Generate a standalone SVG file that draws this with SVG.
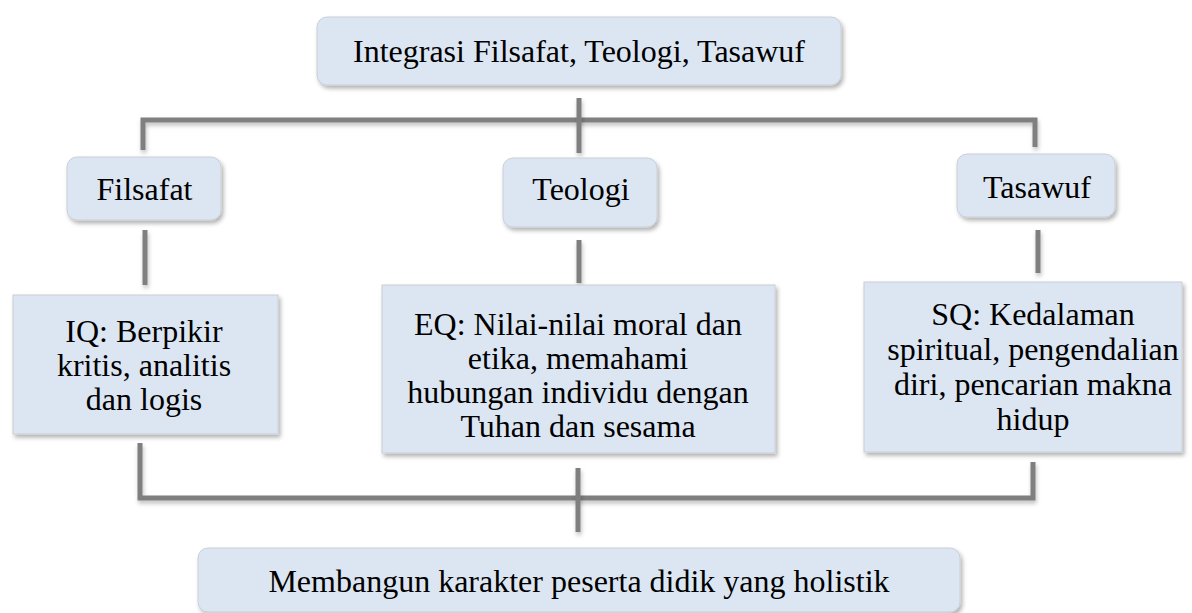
<svg xmlns="http://www.w3.org/2000/svg" width="1192" height="613" viewBox="0 0 1192 613">
<defs>
<filter id="sh" filterUnits="userSpaceOnUse" x="0" y="0" width="1192" height="613">
<feDropShadow dx="2" dy="3" stdDeviation="2" flood-color="#000" flood-opacity="0.3"/>
</filter>
<filter id="lsh" filterUnits="userSpaceOnUse" x="0" y="0" width="1192" height="613">
<feDropShadow dx="1" dy="3" stdDeviation="2" flood-color="#000" flood-opacity="0.25"/>
</filter>
</defs>
<style>
.box{fill:#dce6f2;stroke:#c9ced6;stroke-width:1;filter:url(#sh)}
.lbl{fill:#000;text-anchor:middle}
.ln{fill:none;stroke:#7f7f7f;stroke-width:5;filter:url(#lsh)}
</style>
<rect width="1192" height="613" fill="#fff"/>
<g id="connectors">
<path class="ln" d="M143,150 V120 H1035 V147"/>
<path class="ln" d="M579,98 V153"/>
<path class="ln" d="M145,230 V285"/>
<path class="ln" d="M579,240 V283"/>
<path class="ln" d="M1038,230 V273"/>
<path class="ln" d="M140,443 V498 H1033 V462"/>
<path class="ln" d="M578,468 V532"/>
</g>
<g font-family="Liberation Serif" font-size="32">
<g id="top">
<rect class="box" x="317" y="17" width="524" height="68" rx="10"/>
<text class="lbl" x="579" y="62">Integrasi Filsafat, Teologi, Tasawuf</text>
</g>
<g id="filsafat">
<rect class="box" x="67" y="157" width="154" height="63" rx="10"/>
<text class="lbl" x="144.5" y="200">Filsafat</text>
</g>
<g id="teologi">
<rect class="box" x="503" y="158" width="154" height="69" rx="10"/>
<text class="lbl" x="581" y="200">Teologi</text>
</g>
<g id="tasawuf">
<rect class="box" x="957" y="154" width="158" height="63" rx="10"/>
<text class="lbl" x="1037" y="198">Tasawuf</text>
</g>
<g id="iq">
<rect class="box" x="13" y="295" width="265" height="139"/>
<text class="lbl"><tspan x="144" y="342">IQ: Berpikir</tspan><tspan x="144" y="376">kritis, analitis</tspan><tspan x="144" y="410">dan logis</tspan></text>
</g>
<g id="eq">
<rect class="box" x="382" y="285" width="393" height="168"/>
<text class="lbl"><tspan x="578" y="335">EQ: Nilai-nilai moral dan</tspan><tspan x="578" y="369">etika, memahami</tspan><tspan x="578" y="403">hubungan individu dengan</tspan><tspan x="578" y="437">Tuhan dan sesama</tspan></text>
</g>
<g id="sq">
<rect class="box" x="864" y="282" width="318" height="170"/>
<text class="lbl"><tspan x="1033" y="325">SQ: Kedalaman</tspan><tspan x="1033" y="360">spiritual, pengendalian</tspan><tspan x="1033" y="395">diri, pencarian makna</tspan><tspan x="1033" y="430">hidup</tspan></text>
</g>
<g id="bottom">
<rect class="box" x="198" y="548" width="762" height="64" rx="10"/>
<text class="lbl" x="579" y="592">Membangun karakter peserta didik yang holistik</text>
</g>
</g>
</svg>
